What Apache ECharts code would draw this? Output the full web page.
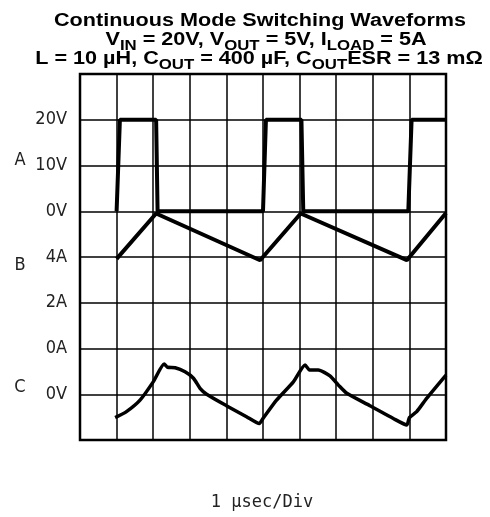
<!DOCTYPE html>
<html>
<head>
<meta charset="utf-8">
<script src="https://cdn.jsdelivr.net/npm/echarts@6/dist/echarts.min.js"></script>
<style>html,body{margin:0;padding:0;background:#fff}#c{width:490px;height:517px}</style>
</head>
<body>
<div id="c"></div>
<script>
// Scope grid: 10 horizontal divisions (1 µs/div), 8 vertical divisions
var yTickLabels = ['', '0V', '0A', '2A', '4A', '0V', '10V', '20V', ''];
var channelNames = ['A', 'B', 'C'];

// Trace A: switch node voltage (V), 10 V/div, 0V at division 5
var timeA = [1.0, 1.09, 2.08, 2.12, 5.0, 5.08, 6.05, 6.1, 8.97, 9.06, 10.0];
var voltsA = [0, 20, 20, 0, 0, 20, 20, 0, 0, 20, 20];

// Trace B: inductor current (A), 2 A/div, 0A at division 2
var timeB = [1.0, 2.08, 4.92, 6.03, 8.93, 10.0];
var ampsB = [3.92, 5.9, 3.86, 5.9, 3.86, 5.92];

// Trace C: output ripple, in divisions relative to its 0V line (division 1)
var timeC = [0.96, 1.27, 1.64, 2.0, 2.30, 2.39, 2.6, 2.87, 3.1, 3.28, 3.46, 4.0, 4.55, 4.9, 5.0, 5.37, 5.83, 6.15, 6.27, 6.51, 6.83, 7.06, 7.29, 7.92, 8.56, 8.93, 9.0, 9.2, 9.47, 10.0];
var rippleC = [-0.51, -0.38, -0.13, 0.27, 0.66, 0.59, 0.58, 0.49, 0.35, 0.13, 0.0, -0.25, -0.49, -0.64, -0.53, -0.13, 0.27, 0.64, 0.53, 0.53, 0.40, 0.20, 0.02, -0.25, -0.53, -0.67, -0.51, -0.38, -0.09, 0.42];

function zip(xs, ys, f) { return xs.map(function (x, i) { return [x, f(ys[i])]; }); }
var dataA = zip(timeA, voltsA, function (v) { return 5 + v / 10; });
var dataB = zip(timeB, ampsB, function (a) { return 2 + a / 2; });
var dataC = zip(timeC, rippleC, function (r) { return 1 + r; });

var titleFont = 'Liberation Sans, Arial, sans-serif';
var labelFont = 'DejaVu Sans Condensed, DejaVu Sans, sans-serif';
var monoFont = 'DejaVu Sans Mono, monospace';
var rich = {
  b: { fontFamily: titleFont, fontWeight: 'bold', fontSize: 18, lineHeight: 19, verticalAlign: 'top', fill: '#000' },
  s: { fontFamily: titleFont, fontWeight: 'bold', fontSize: 14, lineHeight: 14, verticalAlign: 'top', padding: [8, 0, 0, 0], fill: '#000' }
};
var titleScale = 1.2;

var chart = echarts.init(document.getElementById('c'));
chart.setOption({
  animation: false,
  backgroundColor: '#fff',
  grid: { left: 80, right: 44, top: 74, bottom: 77, show: true, borderColor: '#000', borderWidth: 2.5 },
  xAxis: {
    type: 'value', min: 0, max: 10, interval: 1,
    axisLine: { show: false }, axisTick: { show: false }, axisLabel: { show: false },
    splitLine: { show: true, lineStyle: { color: '#000', width: 1.5 } }
  },
  yAxis: {
    type: 'value', min: 0, max: 8, interval: 1,
    axisLine: { show: false }, axisTick: { show: false },
    axisLabel: {
      margin: 13, fontFamily: labelFont, fontSize: 18, color: '#222',
      formatter: function (v) { return yTickLabels[Math.round(v)] || ''; }
    },
    splitLine: { show: true, lineStyle: { color: '#000', width: 1.5 } }
  },
  series: [
    { type: 'line', data: dataA, symbol: 'none', lineStyle: { color: '#000', width: 4 }, z: 5 },
    { type: 'line', data: dataB, symbol: 'none', lineStyle: { color: '#000', width: 4 }, z: 5 },
    { type: 'line', data: dataC, symbol: 'none', smooth: 0.2, lineStyle: { color: '#000', width: 3.5 }, z: 5 }
  ],
  graphic: [
    { type: 'text', x: 260, y: 12, scaleX: titleScale, style: { text: '{b|Continuous Mode Switching Waveforms}', rich: rich, align: 'center', verticalAlign: 'top' } },
    { type: 'text', x: 266, y: 31, scaleX: titleScale, style: { text: '{b|V}{s|IN}{b| = 20V, V}{s|OUT}{b| = 5V, I}{s|LOAD}{b| = 5A}', rich: rich, align: 'center', verticalAlign: 'top' } },
    { type: 'text', x: 259, y: 50, scaleX: titleScale, style: { text: '{b|L = 10 µH, C}{s|OUT}{b| = 400 µF, C}{s|OUT}{b|ESR = 13 mΩ}', rich: rich, align: 'center', verticalAlign: 'top' } },
    { type: 'text', x: 20, y: 160, style: { text: channelNames[0], font: '18px ' + labelFont, fill: '#222', align: 'center', verticalAlign: 'middle' } },
    { type: 'text', x: 20, y: 265, style: { text: channelNames[1], font: '18px ' + labelFont, fill: '#222', align: 'center', verticalAlign: 'middle' } },
    { type: 'text', x: 20, y: 387, style: { text: channelNames[2], font: '18px ' + labelFont, fill: '#222', align: 'center', verticalAlign: 'middle' } },
    { type: 'text', x: 262, y: 503, style: { text: '1 µsec/Div', font: '17px ' + monoFont, fill: '#222', align: 'center', verticalAlign: 'middle' } }
  ]
});
</script>
</body>
</html>
